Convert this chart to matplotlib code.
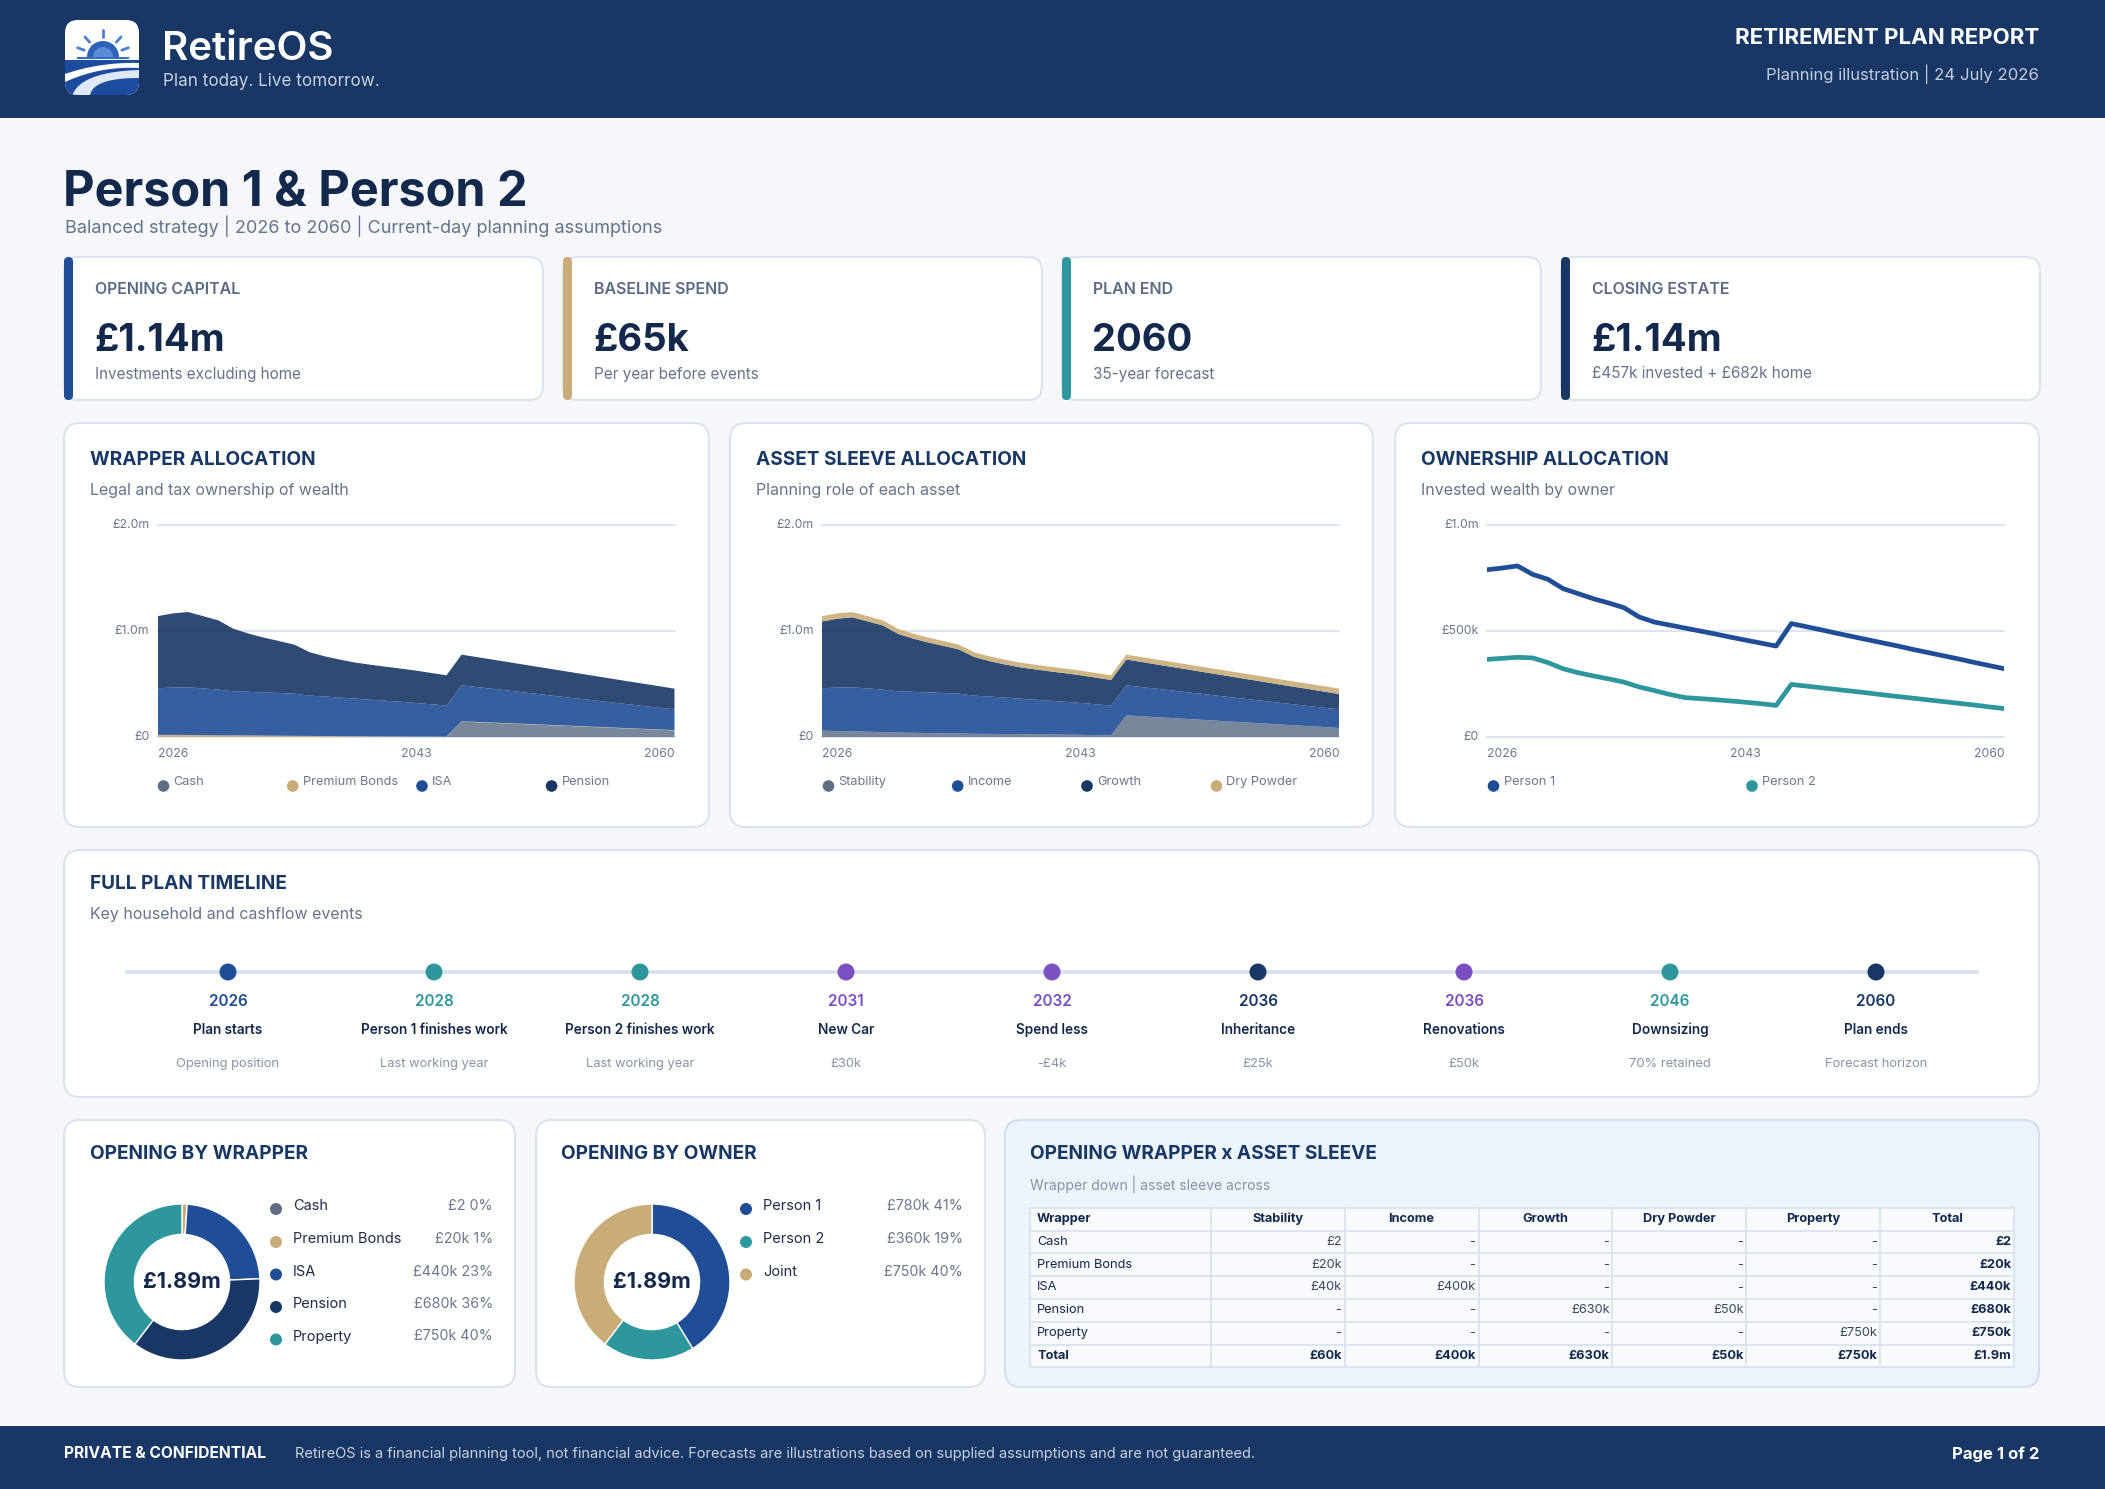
import matplotlib
matplotlib.use('Agg')
import matplotlib.pyplot as plt
from matplotlib.patches import FancyBboxPatch, Rectangle, Circle, Wedge, Polygon
import numpy as np

plt.rcParams['font.family'] = ['Inter', 'DejaVu Sans']

# ---------------- DATA ----------------
years = list(range(2026, 2061))

# Wrapper allocation (GBP k)
cash_k = [0, 0, 0, 0, 0, 0, 0, 0, 0, 0, 0, 0, 0, 0, 0, 0, 0, 0, 0, 0,
          145, 139, 133, 128, 122, 116, 110, 104, 98, 92, 86, 80, 74, 68, 62]
pbonds_k = [20, 20, 19, 17, 16, 15, 14, 13, 12, 11, 10, 9, 8, 7, 6, 5, 5, 4, 4, 3,
            3, 3, 3, 3, 3, 3, 3, 3, 3, 3, 3, 3, 3, 3, 3]
isa_k = [440, 446, 450, 441, 431, 416, 412, 408, 403, 398, 380, 373, 364, 355, 346, 337, 327, 317, 305, 293,
         339, 329, 319, 308, 297, 287, 276, 266, 256, 246, 235, 225, 215, 205, 196]
pension_k = [680, 700, 710, 682, 653, 589, 549, 516, 490, 462, 410, 379, 358, 340, 330, 321, 313, 305, 295, 286,
             290, 283, 276, 269, 263, 256, 250, 243, 236, 229, 223, 216, 210, 203, 195]

# Asset sleeve allocation (GBP k)
stability_k = [60, 55, 54, 50, 46, 42, 40, 37, 35, 32, 30, 29, 28, 27, 26, 24, 22, 20, 18, 16,
               204, 196, 187, 179, 170, 162, 153, 145, 136, 128, 119, 111, 102, 94, 85]
income_k = [400, 411, 415, 408, 401, 389, 386, 384, 380, 377, 360, 353, 344, 335, 326, 318, 310, 301, 291, 280,
            283, 275, 268, 260, 252, 244, 236, 228, 221, 213, 205, 197, 190, 182, 176]
growth_k = [630, 650, 660, 633, 605, 542, 502, 470, 444, 417, 365, 334, 313, 296, 286, 277, 269, 261, 251, 242,
            244, 237, 229, 222, 216, 208, 202, 195, 187, 180, 173, 166, 160, 152, 144]
drypowder_k = [50, 50, 50, 49, 48, 47, 47, 46, 46, 45, 45, 45, 45, 44, 44, 44, 44, 44, 44, 44,
               46, 46, 47, 47, 47, 48, 48, 48, 49, 49, 50, 50, 50, 51, 51]

# Ownership (GBP k)
person1_k = [789, 797, 807, 767, 744, 700, 676, 652, 632, 610, 566, 542, 528, 514, 500, 486, 471, 457, 443, 429,
             535, 520, 505, 489, 474, 459, 444, 429, 413, 398, 383, 368, 352, 337, 322]
person2_k = [366, 371, 376, 373, 351, 322, 303, 288, 274, 259, 236, 219, 201, 186, 181, 176, 170, 164, 157, 149,
             248, 240, 232, 224, 216, 208, 199, 191, 183, 175, 167, 159, 151, 142, 134]

# Opening donuts
wrap_labels = ['Cash', 'Premium Bonds', 'ISA', 'Pension', 'Property']
wrap_values = [2, 20000, 440000, 680000, 750000]
wrap_text = ['£2 0%', '£20k 1%', '£440k 23%', '£680k 36%', '£750k 40%']
owner_labels = ['Person 1', 'Person 2', 'Joint']
owner_values = [780000, 360000, 750000]
owner_text = ['£780k 41%', '£360k 19%', '£750k 40%']

# Timeline
tl_years = ['2026', '2028', '2028', '2031', '2032', '2036', '2036', '2046', '2060']
tl_names = ['Plan starts', 'Person 1 finishes work', 'Person 2 finishes work', 'New Car', 'Spend less',
            'Inheritance', 'Renovations', 'Downsizing', 'Plan ends']
tl_details = ['Opening position', 'Last working year', 'Last working year', '£30k', '-£4k', '£25k', '£50k',
              '70% retained', 'Forecast horizon']
tl_kinds = ['start', 'work', 'work', 'spend', 'spend', 'end', 'spend', 'work', 'end']

# KPI cards
kpi_labels = ['OPENING CAPITAL', 'BASELINE SPEND', 'PLAN END', 'CLOSING ESTATE']
kpi_values = ['£1.14m', '£65k', '2060', '£1.14m']
kpi_notes = ['Investments excluding home', 'Per year before events', '35-year forecast', '£457k invested + £682k home']

# Table
table_header = ['Wrapper', 'Stability', 'Income', 'Growth', 'Dry Powder', 'Property', 'Total']
table_rows = [
    ['Cash', '£2', '-', '-', '-', '-', '£2'],
    ['Premium Bonds', '£20k', '-', '-', '-', '-', '£20k'],
    ['ISA', '£40k', '£400k', '-', '-', '-', '£440k'],
    ['Pension', '-', '-', '£630k', '£50k', '-', '£680k'],
    ['Property', '-', '-', '-', '-', '£750k', '£750k'],
    ['Total', '£60k', '£400k', '£630k', '£50k', '£750k', '£1.9m'],
]

# ---------------- STYLE ----------------
NAVY = '#183764'
BLUE = '#1f4e96'
TEAL = '#2e979d'
TAN = '#c9ad78'
PURPLE = '#7a4fc0'
SLATE = '#5f6d84'
DARK = '#14284b'
MUTED = '#66738a'
LIGHT = '#8793a6'
BORDER = '#dbe3ee'
GRID = '#dce5f0'
PAGE = '#f5f7fa'

W, H = 2105, 1489
fig = plt.figure(figsize=(W / 100, H / 100), dpi=100)
fig.patch.set_facecolor(PAGE)
bg = fig.add_axes([0, 0, 1, 1])
bg.set_xlim(0, W)
bg.set_ylim(H, 0)
bg.axis('off')


def px_axes(x0, y0, x1, y1):
    return fig.add_axes([x0 / W, 1 - y1 / H, (x1 - x0) / W, (y1 - y0) / H])


def rbox(x, y, w, h, r, fc, ec='none', lw=0, z=1):
    p = FancyBboxPatch((x, y), w, h, boxstyle=f"round,pad=0,rounding_size={r}",
                       fc=fc, ec=ec, lw=lw, zorder=z)
    bg.add_patch(p)
    return p


def txt(x, y, s, size, color, weight='normal', ha='left', va='center', **kw):
    return bg.text(x, y, s, fontsize=size, color=color, fontweight=weight, ha=ha, va=va, **kw)


# ---------------- HEADER ----------------
bg.add_patch(Rectangle((0, 0), W, 118, fc=NAVY, ec='none', zorder=1))
logo = rbox(65, 20, 74, 75, 13, 'white', z=2)
# sun
sun = Wedge((103, 57), 16, 180, 360, fc='#2e62b8', ec='none', zorder=3)
bg.add_patch(sun)
sun2 = Wedge((103, 57), 10, 180, 360, fc='#5a8ad6', ec='none', zorder=3)
bg.add_patch(sun2)
for ang in [200, 228, 270, 312, 340]:
    a = np.deg2rad(ang)
    bg.plot([103 + 20 * np.cos(a), 103 + 27 * np.cos(a)], [57 + 20 * np.sin(a), 57 + 27 * np.sin(a)],
            color='#4a7fd4', lw=2, solid_capstyle='round', zorder=3)
bg.plot([78, 128], [58, 58], color='#3a6cc0', lw=1.5, zorder=3)
ground = Rectangle((65, 60), 74, 36, fc='#1d4b9e', ec='none', zorder=3)
bg.add_patch(ground)
ground.set_clip_path(logo)
t = np.linspace(0, 1, 40)


def bez(p0, p1, p2):
    return [(1 - t) ** 2 * p0[0] + 2 * (1 - t) * t * p1[0] + t ** 2 * p2[0],
            (1 - t) ** 2 * p0[1] + 2 * (1 - t) * t * p1[1] + t ** 2 * p2[1]]


for (a0, a1, a2, b0, b1, b2, col) in [
    ((65, 74), (100, 62), (139, 63), (139, 68), (100, 66), (65, 82), '#ffffff'),
    ((72, 96), (80, 72), (139, 70), (139, 78), (92, 78), (90, 96), '#dfe8f7'),
]:
    ca = bez(a0, a1, a2)
    cb = bez(b0, b1, b2)
    pts = np.column_stack([np.concatenate([ca[0], cb[0]]), np.concatenate([ca[1], cb[1]])])
    poly = Polygon(pts, closed=True, fc=col, ec='none', zorder=4)
    bg.add_patch(poly)
    poly.set_clip_path(logo)

txt(162, 49, 'RetireOS', 29, 'white', 'semibold')
txt(163, 82, 'Plan today. Live tomorrow.', 12.3, '#c6d1e4')
txt(2039, 38, 'RETIREMENT PLAN REPORT', 16, 'white', 'bold', ha='right')
txt(2039, 74, 'Planning illustration | 24 July 2026', 12, '#c2cde0', ha='right')

# ---------------- TITLE ----------------
txt(63, 192, 'Person 1 & Person 2', 35, DARK, 'bold')
txt(65, 226, 'Balanced strategy | 2026 to 2060 | Current-day planning assumptions', 13, MUTED)

# ---------------- KPI CARDS ----------------
kpi_x = [64, 563, 1062, 1561]
kpi_col = [BLUE, TAN, TEAL, NAVY]
for i in range(4):
    x = kpi_x[i]
    rbox(x, 257, 479, 143, 14, 'white', BORDER, 1.5, z=2)
    rbox(x, 257, 9, 143, 4.5, kpi_col[i], z=3)
    txt(x + 31, 290, kpi_labels[i], 11.5, '#5a6a85', 'semibold')
    txt(x + 30, 341, kpi_values[i], 27.5, DARK, 'bold')
    txt(x + 31, 374, kpi_notes[i], 11, MUTED)

# ---------------- CHART CARDS ----------------
card_x = [(64, 709), (730, 1373), (1395, 2039)]
card_titles = ['WRAPPER ALLOCATION', 'ASSET SLEEVE ALLOCATION', 'OWNERSHIP ALLOCATION']
card_subs = ['Legal and tax ownership of wealth', 'Planning role of each asset', 'Invested wealth by owner']
for (x0, x1), tt, ss in zip(card_x, card_titles, card_subs):
    rbox(x0, 423, x1 - x0, 404, 16, 'white', BORDER, 1.5, z=2)
    txt(x0 + 26, 460, tt, 13.7, NAVY, 'bold')
    txt(x0 + 26, 490, ss, 11.5, MUTED)


def style_chart(ax, ymax, yticks, ylabels):
    ax.set_facecolor('none')
    for s in ax.spines.values():
        s.set_visible(False)
    ax.set_xlim(2026, 2060)
    ax.set_ylim(0, ymax)
    ax.set_yticks(yticks)
    ax.set_yticklabels(ylabels)
    ax.set_xticks([2026, 2043, 2060])
    ax.set_xticklabels(['2026', '2043', '2060'])
    ax.tick_params(length=0, labelsize=8.8, labelcolor='#6b778c')
    ax.tick_params(axis='x', pad=8)
    ax.tick_params(axis='y', pad=6)
    xl = ax.get_xticklabels()
    xl[0].set_ha('left')
    xl[-1].set_ha('right')
    for lab in ax.get_yticklabels():
        lab.set_va('center')
    for v in yticks:
        ax.axhline(v, color=GRID, lw=1.4, zorder=0, clip_on=False)


ax1 = px_axes(157.6, 525, 674.5, 737)
style_chart(ax1, 2000, [0, 1000, 2000], ['£0', '£1.0m', '£2.0m'])
ax1.stackplot(years, cash_k, pbonds_k, isa_k, pension_k,
              colors=['#6b7a90', TAN, BLUE, NAVY], alpha=0.9, lw=0, zorder=2)

ax2 = px_axes(822, 525, 1339.4, 737)
style_chart(ax2, 2000, [0, 1000, 2000], ['£0', '£1.0m', '£2.0m'])
ax2.stackplot(years, stability_k, income_k, growth_k, drypowder_k,
              colors=['#6b7a90', BLUE, NAVY, TAN], alpha=0.9, lw=0, zorder=2)

ax3 = px_axes(1487, 525, 2004.4, 737)
style_chart(ax3, 1000, [0, 500, 1000], ['£0', '£500k', '£1.0m'])
ax3.plot(years, person1_k, color=BLUE, lw=3.4, zorder=3, solid_joinstyle='round')
ax3.plot(years, person2_k, color=TEAL, lw=3.4, zorder=3, solid_joinstyle='round')


def legend_row(xs, labels, colors, y=785):
    for x, l, c in zip(xs, labels, colors):
        bg.add_patch(Circle((x, y + 1), 5.8, fc=c, ec='none', zorder=5))
        txt(x + 10, y - 3, l, 9.2, '#6b778c')


legend_row([163.5, 292.7, 422, 551.6], ['Cash', 'Premium Bonds', 'ISA', 'Pension'], [SLATE, TAN, BLUE, NAVY])
legend_row([828.5, 957.7, 1087, 1216.5], ['Stability', 'Income', 'Growth', 'Dry Powder'], [SLATE, BLUE, NAVY, TAN])
legend_row([1493.5, 1752], ['Person 1', 'Person 2'], [BLUE, TEAL])

# ---------------- TIMELINE ----------------
rbox(64, 850, 1975, 247, 16, 'white', BORDER, 1.5, z=2)
txt(90, 884, 'FULL PLAN TIMELINE', 13.7, NAVY, 'bold')
txt(90, 914, 'Key household and cashflow events', 11.5, MUTED)
kind_color = {'start': BLUE, 'work': TEAL, 'spend': PURPLE, 'end': NAVY}
tl_ax = px_axes(125, 940, 1979, 1085)
tl_ax.set_facecolor('none')
tl_ax.axis('off')
tl_ax.set_xlim(-0.5, len(tl_names) - 0.5)
tl_ax.set_ylim(145, 0)
tl_ax.axhline(32, color='#d6e0ec', lw=2.6, zorder=1)
idx = np.arange(len(tl_names))
cols = [kind_color[k] for k in tl_kinds]
tl_ax.scatter(idx, [32] * len(idx), s=150, c=cols, zorder=3, linewidths=0)
for i in idx:
    tl_ax.text(i, 61, tl_years[i], fontsize=11, color=cols[i], fontweight='semibold', ha='center', va='center')
    tl_ax.text(i, 90, tl_names[i], fontsize=9.8, color=DARK, fontweight='semibold', ha='center', va='center')
    tl_ax.text(i, 124, tl_details[i], fontsize=9.3, color=LIGHT, ha='center', va='center')

# ---------------- DONUT CARDS ----------------
rbox(64, 1120, 451, 267, 16, 'white', BORDER, 1.5, z=2)
rbox(536, 1120, 449, 267, 16, 'white', BORDER, 1.5, z=2)
txt(90, 1154, 'OPENING BY WRAPPER', 13.7, NAVY, 'bold')
txt(561, 1154, 'OPENING BY OWNER', 13.7, NAVY, 'bold')


def donut(cx, cy, values, colors):
    ax = px_axes(cx - 78, cy - 78, cx + 78, cy + 78)
    ax.pie(values, colors=colors, startangle=90, counterclock=False, radius=1,
           wedgeprops=dict(width=0.39, edgecolor='white', linewidth=1))
    ax.set_xlim(-1.0, 1.0)
    ax.set_ylim(-1.0, 1.0)
    ax.text(0, 0, '£1.89m', fontsize=15.5, fontweight='bold', color=DARK, ha='center', va='center')
    return ax


donut(182, 1282, wrap_values, [SLATE, TAN, BLUE, NAVY, TEAL])
donut(652, 1282, owner_values, [BLUE, TEAL, TAN])

ly = [1207, 1240, 1272.5, 1305, 1337.5]
for i, (l, v, c) in enumerate(zip(wrap_labels, wrap_text, [SLATE, TAN, BLUE, NAVY, TEAL])):
    bg.add_patch(Circle((276, ly[i] + 2), 6, fc=c, ec='none', zorder=5))
    txt(293, ly[i] - 1, l, 10.5, '#1f2d4a')
    txt(493, ly[i] - 1, v, 10.3, '#6b778c', ha='right')
for i, (l, v, c) in enumerate(zip(owner_labels, owner_text, [BLUE, TEAL, TAN])):
    bg.add_patch(Circle((746, ly[i] + 2), 6, fc=c, ec='none', zorder=5))
    txt(763, ly[i] - 1, l, 10.5, '#1f2d4a')
    txt(963, ly[i] - 1, v, 10.3, '#6b778c', ha='right')

# ---------------- TABLE CARD ----------------
rbox(1005, 1120, 1034, 267, 16, '#edf3fb', '#d3deee', 1.5, z=2)
txt(1030, 1154, 'OPENING WRAPPER x ASSET SLEEVE', 13.7, NAVY, 'bold')
txt(1030, 1184, 'Wrapper down | asset sleeve across', 10, LIGHT)
col_edges = [1030, 1210.6, 1344.5, 1478.5, 1612.4, 1746.4, 1880.3, 2014]
row_edges = [1207.7, 1230.5, 1253.3, 1276.1, 1298.9, 1321.7, 1344.5, 1367.3]
bg.add_patch(Rectangle((col_edges[0], row_edges[0]), col_edges[-1] - col_edges[0], row_edges[-1] - row_edges[0],
                       fc='#f8fafd', ec='#d6e0ed', lw=1.2, zorder=3))
for xe in col_edges[1:-1]:
    bg.plot([xe, xe], [row_edges[0], row_edges[-1]], color='#d6e0ed', lw=1.2, zorder=4)
for ye in row_edges[1:-1]:
    bg.plot([col_edges[0], col_edges[-1]], [ye, ye], color='#d6e0ed', lw=1.2, zorder=4)
for j, h in enumerate(table_header):
    yc = (row_edges[0] + row_edges[1]) / 2
    if j == 0:
        txt(col_edges[0] + 7, yc, h, 9.2, DARK, 'bold', zorder=5)
    else:
        txt((col_edges[j] + col_edges[j + 1]) / 2, yc, h, 9.2, DARK, 'bold', ha='center', zorder=5)
for i, row in enumerate(table_rows):
    yc = (row_edges[i + 1] + row_edges[i + 2]) / 2
    is_total = row[0] == 'Total'
    for j, v in enumerate(row):
        bold = is_total or j == len(row) - 1
        if j == 0:
            txt(col_edges[0] + 7, yc, v, 9.2, DARK, 'bold' if is_total else 'normal', zorder=5)
        else:
            txt(col_edges[j + 1] - 3, yc, v, 9.2, DARK if bold else '#3b4760', 'bold' if bold else 'normal',
                ha='right', zorder=5)

# ---------------- FOOTER ----------------
bg.add_patch(Rectangle((0, 1426), W, 63, fc=NAVY, ec='none', zorder=1))
txt(64, 1454, 'PRIVATE & CONFIDENTIAL', 11.2, 'white', 'bold')
txt(295, 1454, 'RetireOS is a financial planning tool, not financial advice. Forecasts are illustrations based on '
               'supplied assumptions and are not guaranteed.', 10.5, '#c7d0e0')
txt(2039, 1454, 'Page 1 of 2', 12, 'white', 'bold', ha='right')

fig.savefig('out.png', dpi=100, facecolor=PAGE)
